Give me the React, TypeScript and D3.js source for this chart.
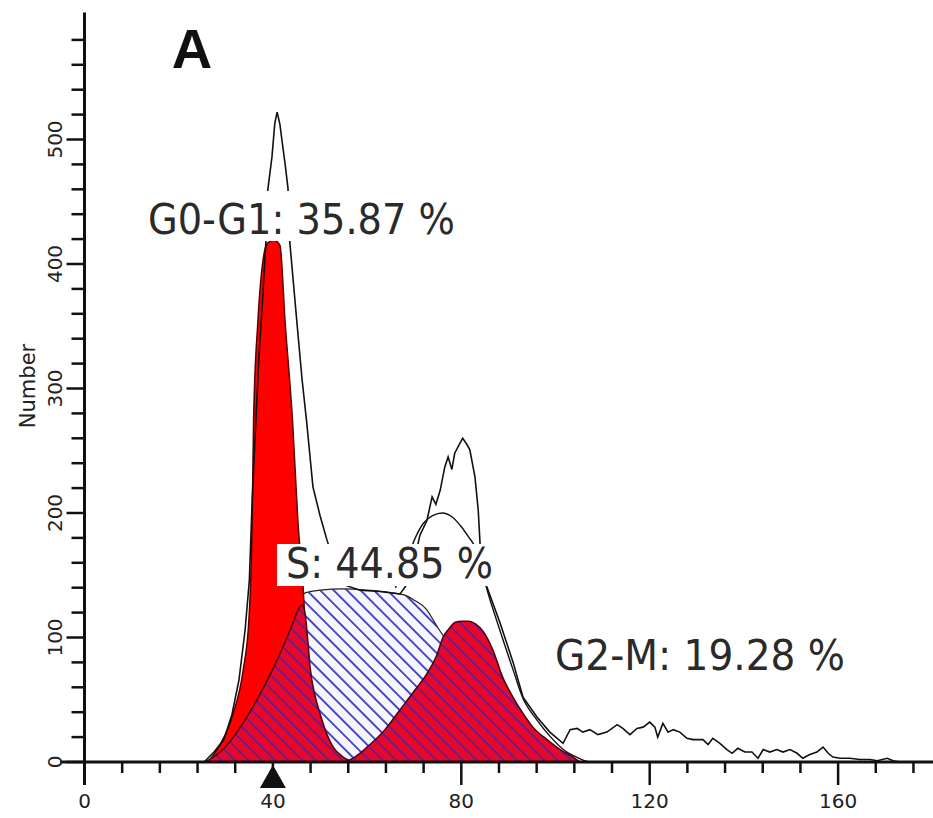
import React from 'react'
import * as d3 from 'd3'

// DNA content channel vs cell count
const histogram = [
  [25.4, 0], [27.5, 8], [29.6, 18], [31.3, 38], [32.8, 66], [34.1, 106], [35.0, 146], [35.6, 210],
  [36.2, 259], [37.0, 323], [37.8, 371], [38.5, 417], [38.9, 459], [39.8, 486], [40.4, 513],
  [40.9, 522], [41.5, 512], [41.9, 500], [42.6, 480], [43.2, 461], [43.6, 417], [45.1, 353],
  [46.2, 307], [47.2, 272], [48.5, 221], [50.0, 198], [51.5, 178], [53.2, 158], [55.3, 142],
  [58.5, 138], [62.7, 137], [67.0, 135], [69.1, 146], [71.2, 182], [72.7, 194], [73.8, 213],
  [74.6, 207], [75.5, 218], [76.5, 237], [77.2, 245], [78.0, 235], [78.6, 248], [79.7, 256],
  [80.3, 260], [81.2, 255], [81.8, 251], [82.9, 229], [83.6, 202], [84.0, 174], [84.8, 154],
  [85.4, 141], [88.2, 112], [91.0, 80], [93.1, 52], [96.1, 36], [98.8, 24], [101.6, 15],
  [103.1, 26], [104.6, 27], [105.8, 24], [107.3, 26], [109.0, 22], [110.9, 24], [113.1, 30],
  [114.3, 27], [115.8, 22], [117.3, 27], [118.6, 28], [120.0, 32], [121.1, 28], [121.7, 20],
  [122.8, 31], [123.9, 24], [125.0, 26], [126.4, 24], [127.9, 19], [129.2, 18], [131.3, 18],
  [132.4, 14], [133.4, 19], [134.9, 15], [136.4, 10], [137.5, 7], [138.7, 11], [140.2, 8],
  [141.7, 8], [143.0, 3], [144.1, 10], [145.5, 8], [147.0, 10], [148.3, 8], [149.8, 10],
  [151.3, 7], [152.5, 3], [154.0, 6], [155.5, 8], [156.8, 12], [157.9, 7], [158.9, 4],
  [160.4, 3], [162.5, 3], [164.6, 2], [166.8, 2], [168.3, 1], [170.4, 3], [171.7, 1], [173.2, 0],
]

const fitLine = [
  [66, 140], [68, 156], [70, 178], [72, 192], [74, 198], [76, 200], [78, 197], [80, 189],
  [81.5, 181], [83, 172], [84.5, 152], [85.5, 138], [88, 108], [91, 74], [93, 52], [96, 34],
  [99, 20], [102, 9], [105, 3], [107, 0],
]

const g1Peak = [
  [26.2, 0], [28.8, 14], [31.5, 38], [33.7, 74], [34.9, 114], [35.6, 194], [35.9, 275],
  [36.8, 353], [37.9, 403], [38.9, 417], [40.2, 419], [41.5, 415], [42.6, 353], [44.2, 272],
  [45.3, 194], [46.4, 141], [46.8, 114], [47.2, 82], [47.7, 50], [48.1, 18], [48.4, 0],
]

const secondPeak = [
  [25.6, 0], [28.8, 8], [32, 22], [35.1, 40], [38.3, 62], [40.9, 82], [43, 100], [44.3, 112],
  [45.3, 122], [46.2, 126], [46.8, 120], [47.4, 98], [47.9, 76], [48.9, 54], [50, 39],
  [51.5, 22], [52.8, 12], [54.9, 4], [57, 0],
]

const sPhase = [
  [36, 0], [40, 40], [43, 100], [45, 128], [47, 136], [50, 138], [55, 139], [60, 138],
  [65, 136], [68, 134], [70, 130], [72.5, 123], [75, 108], [77, 97], [80, 84], [85, 60],
  [90, 36], [95, 16], [100, 4], [103, 0],
]

const g2Peak = [
  [55.3, 0], [57.4, 4], [60, 12], [63.8, 26], [67, 42], [70.2, 58], [72.7, 71], [74.8, 86],
  [76.1, 100], [77.6, 108], [78.6, 112], [80.1, 113], [81.6, 113], [83, 111], [84.6, 105],
  [86.7, 90], [88.8, 68], [91, 52], [93.1, 39], [95.2, 28], [98.2, 18], [101, 10],
  [103.7, 4], [105.2, 0],
]

const xTickLabels = ['0', '40', '80', '120', '160']
const yTickLabels = ['0', '100', '200', '300', '400', '500']
const phaseLabels = ['G0-G1: 35.87 %', 'S: 44.85 %', 'G2-M: 19.28 %']
const markerChannel = 40

const W = 933
const H = 818

const x = d3.scaleLinear().domain([0, 180]).range([84.5, 932.3])
const y = d3.scaleLinear().domain([0, 600]).range([762, 15])

const area = d3
  .area<number[]>()
  .x((d) => x(d[0]))
  .y0(y(0))
  .y1((d) => y(d[1]))
  .curve(d3.curveMonotoneX)
const smooth = d3
  .line<number[]>()
  .x((d) => x(d[0]))
  .y((d) => y(d[1]))
  .curve(d3.curveMonotoneX)
const jagged = d3
  .line<number[]>()
  .x((d) => x(d[0]))
  .y((d) => y(d[1]))

// label boxes: [x, y, w, h] for box, then text x, baseline, width
const labelLayout = [
  { box: [143, 191, 320, 50], tx: 148, ty: 234, tw: 307 },
  { box: [277, 544, 224, 42], tx: 286, ty: 578, tw: 207 },
  { box: null, tx: 555, ty: 670, tw: 290 },
]

const App = () => {
  const xTicks = d3.range(0, 180, 8)
  const yTicks = d3.range(0, 600, 20)
  const labelFont = '"DejaVu Sans", Verdana, sans-serif'

  return (
    <svg
      width={W}
      height={H}
      style={{ position: 'absolute', left: 0, top: 0, background: '#fff' }}
    >
      <defs>
        <pattern id="hatchWhite" patternUnits="userSpaceOnUse" width={10} height={9.5} patternTransform="rotate(45)">
          <rect width={10} height={9.5} fill="#f6f6ff" />
          <line x1={0} y1={1} x2={10} y2={1} stroke="#3c3cc0" strokeWidth={1.8} />
        </pattern>
        <pattern id="hatchRed" patternUnits="userSpaceOnUse" width={10} height={9.5} patternTransform="rotate(45)">
          <rect width={10} height={9.5} fill="#e4082c" />
          <line x1={0} y1={1} x2={10} y2={1} stroke="#6a1c86" strokeWidth={1.8} />
        </pattern>
      </defs>

      <path d={area(sPhase) ?? ''} fill="url(#hatchWhite)" stroke="#222" strokeWidth={1.2} />
      <path d={area(g1Peak) ?? ''} fill="#ff0000" stroke="#5a0000" strokeWidth={1.5} />
      <path d={area(secondPeak) ?? ''} fill="url(#hatchRed)" stroke="#4a0010" strokeWidth={1.5} />
      <path d={area(g2Peak) ?? ''} fill="url(#hatchRed)" stroke="#4a0010" strokeWidth={1.5} />

      <path d={smooth(fitLine) ?? ''} fill="none" stroke="#111" strokeWidth={1.4} />
      <path d={jagged(histogram) ?? ''} fill="none" stroke="#111" strokeWidth={1.6} />

      {/* axes */}
      <line x1={x(0)} x2={x(0)} y1={y(602)} y2={785} stroke="#111" strokeWidth={3} />
      <line x1={60} x2={W} y1={y(0)} y2={y(0)} stroke="#111" strokeWidth={3} />
      {xTicks.map((t) => (
        <line
          key={'xt' + t}
          x1={x(t)}
          x2={x(t)}
          y1={y(0)}
          y2={t % 40 === 0 ? 785 : 773}
          stroke="#111"
          strokeWidth={2.5}
        />
      ))}
      {yTicks.map((t) => (
        <line
          key={'yt' + t}
          x1={x(0)}
          x2={t % 100 === 0 ? x(0) - 18 : x(0) - 13}
          y1={y(t)}
          y2={y(t)}
          stroke="#111"
          strokeWidth={2.5}
        />
      ))}
      {xTickLabels.map((l) => (
        <text
          key={'xl' + l}
          x={x(+l)}
          y={808}
          textAnchor="middle"
          fontFamily={labelFont}
          fontSize={20}
          fill="#222"
        >
          {l}
        </text>
      ))}
      {yTickLabels.map((l) => (
        <text
          key={'yl' + l}
          transform={`translate(62,${y(+l)}) rotate(-90)`}
          textAnchor="middle"
          fontFamily={labelFont}
          fontSize={20}
          fill="#222"
        >
          {l}
        </text>
      ))}
      <text
        transform="translate(35,386) rotate(-90)"
        textAnchor="middle"
        fontFamily={labelFont}
        fontSize={21}
        fill="#222"
      >
        Number
      </text>

      {/* channel marker */}
      <path
        d={`M${x(markerChannel)},765 l-13,23 h26 z`}
        fill="#111"
      />

      {phaseLabels.map((l, i) => {
        const lay = labelLayout[i]
        return (
          <g key={l}>
            {lay.box && (
              <rect x={lay.box[0]} y={lay.box[1]} width={lay.box[2]} height={lay.box[3]} fill="#fff" />
            )}
            <text
              x={lay.tx}
              y={lay.ty}
              fontFamily={labelFont}
              fontSize={42}
              fill="#2a2a2a"
              textLength={lay.tw}
              lengthAdjust="spacingAndGlyphs"
            >
              {l}
            </text>
          </g>
        )
      })}

      <text
        x={192}
        y={68}
        textAnchor="middle"
        fontFamily='"Liberation Sans", Arial, sans-serif'
        fontWeight="bold"
        fontSize={56}
        fill="#111"
      >
        A
      </text>
    </svg>
  )
}

export default App
